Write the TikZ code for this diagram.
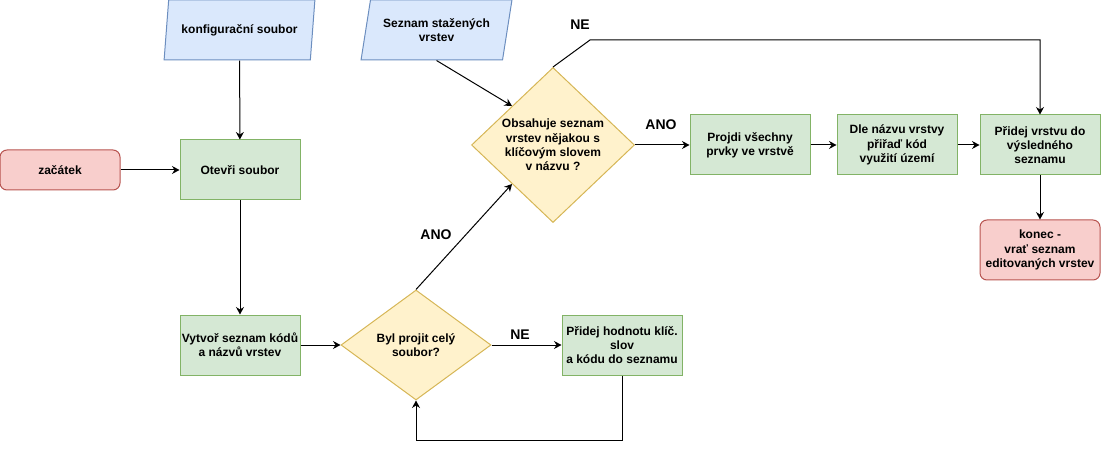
\documentclass[tikz,border=0pt]{standalone}
\usepackage{fontspec}
\setmainfont{Liberation Sans}
\usepackage{tikz}
\usetikzlibrary{shapes.geometric,arrows.meta}

\definecolor{redfill}{HTML}{F8CECC}
\definecolor{redline}{HTML}{B85450}
\definecolor{bluefill}{HTML}{DAE8FC}
\definecolor{blueline}{HTML}{6C8EBF}
\definecolor{greenfill}{HTML}{D5E8D4}
\definecolor{greenline}{HTML}{82B366}
\definecolor{yellowfill}{HTML}{FFF2CC}
\definecolor{yellowline}{HTML}{D6B656}

\tikzset{
  every node/.style={font=\bfseries\fontsize{12}{14.4}\selectfont, align=center, inner sep=0pt},
  >={Stealth[length=7.5pt,width=8pt,inset=2.5pt]},
  terminal/.style={draw=redline, fill=redfill, line width=1pt, rounded corners=7pt, minimum width=120pt},
  process/.style={draw=greenline, fill=greenfill, line width=1pt, minimum width=120pt, minimum height=60pt},
  inout/.style={trapezium, trapezium left angle=72, trapezium right angle=108, trapezium stretches=true,
    draw=blueline, fill=bluefill, line width=1pt, minimum width=151pt, minimum height=60pt},
  decision/.style={diamond, draw=yellowline, fill=yellowfill, line width=1pt},
  lbl/.style={font=\bfseries\fontsize{14}{16}\selectfont}
}

\begin{document}
\begin{tikzpicture}[x=1pt, y=-1pt, line width=1pt]
        \useasboundingbox (0,0) rectangle (1101,449);

          \node[terminal, minimum height=40pt] (zacatek) at (60,170) {začátek};
          \node[inout] (konfig) at (239.5,30) {konfigurační soubor};
          \node[process] (otevri) at (240,170) {Otevři soubor};
          \node[process] (vytvor) at (240,345) {Vytvoř seznam kódů\\a názvů vrstev};
          \node[decision, minimum width=150pt, minimum height=110pt] (celySoubor) at (416,345) {Byl projit celý\\soubor?};
          \node[process] (hodnota) at (622,345) {Přidej hodnotu klíč.\\slov\\a kódu do seznamu};

          \node[inout] (stazene) at (436.5,30) {Seznam stažených\\vrstev};
          \node[decision, minimum width=163pt, minimum height=155pt] (obsahuje) at (553,145) {Obsahuje seznam\\vrstev nějakou s\\klíčovým slovem\\v názvu ?};
          \node[process] (projdi) at (750,145) {Projdi všechny\\prvky ve vrstvě};
          \node[process] (kod) at (897,145) {Dle názvu vrstvy\\přiřaď kód\\využití území};
          \node[process] (pridej) at (1040,145) {Přidej vrstvu do\\výsledného\\seznamu};
          \node[terminal, minimum height=60pt] (konec) at (1040,250) {konec -\\vrať seznam\\editovaných vrstev};

          \coordinate (ohyb) at (590,40);

          \draw[->] (zacatek) -- (otevri);
          \draw[->] (konfig) -- (otevri);
          \draw[->] (otevri) -- (vytvor);
          \draw[->] (vytvor) -- (celySoubor);
          \draw[->] (celySoubor) -- (hodnota);
          \draw[->] (hodnota.south) -- ++(0,65) -| (celySoubor.south);
          \draw[->] (celySoubor.north) -- (obsahuje.south west);
          \draw[->] (stazene.south) -- (obsahuje.north west);
          \draw[->] (obsahuje) -- (projdi);
          \draw[->] (projdi) -- (kod);
          \draw[->] (kod) -- (pridej);
          \draw[->] (obsahuje.north) -- (ohyb) -| (pridej.north);
          \draw[->] (pridej) -- (konec);

          \node[lbl] (ne1) at (580,25) {NE};
          \node[lbl] (ano1) at (661,125) {ANO};
          \node[lbl] (ano2) at (436,235) {ANO};
          \node[lbl] (ne2) at (520,335) {NE};
        \end{tikzpicture}
\end{document}
